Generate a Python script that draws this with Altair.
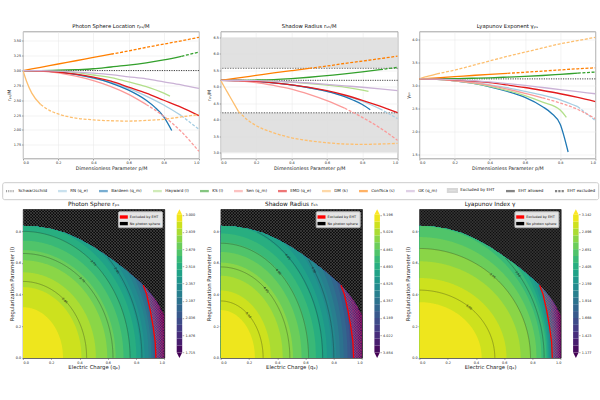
import altair as alt
import numpy as np
import pandas as pd

FONT = "DejaVu Sans"

# ---------------------------------------------------------------- top row
# parameter grids on which each curve was sampled
P_FULL = [0.0, 0.1, 0.2, 0.3, 0.4, 0.5, 0.6, 0.7, 0.8, 0.9, 1.0]
P_BARDEEN = [0.0, 0.1, 0.2, 0.3, 0.4, 0.5, 0.6, 0.7, 0.75, 0.8, 0.845]
P_HAYWARD = [0.0, 0.1, 0.2, 0.3, 0.4, 0.5, 0.6, 0.7, 0.8, 0.835]
P_DM = [0.0, 0.02, 0.05, 0.1, 0.15, 0.2, 0.3, 0.4, 0.5, 0.6, 0.7, 0.8, 0.9, 1.0]

MODELS = ["RN (q_e)", "Bardeen (q_m)", "Hayward (l)", "KS (l)", "Sen (q_m)",
          "EMD (q_e)", "DM (k)", "ConfSca (s)", "GK (q_m)"]
MODEL_COLORS = ["#a6cee3", "#1f78b4", "#b2df8a", "#33a02c", "#fb9a99",
                "#e31a1c", "#fdbf6f", "#ff7f00", "#cab2d6"]
MODEL_GRIDS = [P_FULL, P_BARDEEN, P_HAYWARD, P_FULL, P_FULL, P_FULL, P_DM, P_FULL, P_FULL]
# parameter value after which the shadow leaves the EHT band (None: never)
EHT_CUT = [0.9, None, None, 0.9, 0.7, None, 0.1, 0.5, None]

# photon sphere location r_ps/M
RPS_RN = [3.00, 2.99, 2.97, 2.93, 2.87, 2.80, 2.70, 2.57, 2.42, 2.24, 2.01]
RPS_BARDEEN = [3.00, 2.995, 2.975, 2.935, 2.875, 2.79, 2.67, 2.50, 2.38, 2.22, 1.99]
RPS_HAYWARD = [3.00, 2.998, 2.99, 2.965, 2.925, 2.88, 2.81, 2.73, 2.62, 2.57]
RPS_KS = [3.00, 3.00, 3.005, 3.015, 3.03, 3.06, 3.09, 3.13, 3.18, 3.24, 3.31]
RPS_SEN = [3.00, 2.99, 2.96, 2.905, 2.83, 2.73, 2.60, 2.43, 2.23, 1.97, 1.64]
RPS_EMD = [3.00, 2.995, 2.975, 2.94, 2.89, 2.82, 2.72, 2.62, 2.50, 2.38, 2.24]
RPS_DM = [3.00, 2.82, 2.62, 2.43, 2.33, 2.27, 2.20, 2.17, 2.155, 2.15, 2.16, 2.18, 2.22, 2.26]
RPS_CONFSCA = [3.00, 3.055, 3.11, 3.165, 3.22, 3.275, 3.33, 3.39, 3.445, 3.50, 3.56]
RPS_GK = [3.00, 2.998, 2.99, 2.975, 2.955, 2.93, 2.895, 2.86, 2.81, 2.76, 2.70]

# shadow radius r_sh/M
RSH_RN = [5.196, 5.19, 5.16, 5.11, 5.05, 4.97, 4.86, 4.73, 4.56, 4.33, 4.03]
RSH_BARDEEN = [5.196, 5.19, 5.165, 5.12, 5.06, 4.97, 4.86, 4.70, 4.59, 4.46, 4.30]
RSH_HAYWARD = [5.196, 5.195, 5.19, 5.17, 5.14, 5.10, 5.05, 4.99, 4.90, 4.86]
RSH_KS = [5.196, 5.197, 5.205, 5.22, 5.25, 5.29, 5.34, 5.39, 5.45, 5.52, 5.59]
RSH_SEN = [5.196, 5.18, 5.13, 5.04, 4.93, 4.77, 4.58, 4.35, 4.07, 3.75, 3.37]
RSH_EMD = [5.196, 5.19, 5.165, 5.12, 5.06, 4.98, 4.88, 4.75, 4.59, 4.41, 4.21]
RSH_DM = [5.196, 5.00, 4.72, 4.25, 4.00, 3.82, 3.60, 3.45, 3.36, 3.30, 3.26, 3.25, 3.26, 3.28]
RSH_CONFSCA = [5.196, 5.27, 5.345, 5.42, 5.49, 5.56, 5.63, 5.71, 5.78, 5.855, 5.93]
RSH_GK = [5.196, 5.194, 5.185, 5.17, 5.145, 5.115, 5.075, 5.03, 4.985, 4.935, 4.88]

# Lyapunov exponent gamma_ps
GAM_RN = [3.1416, 3.135, 3.11, 3.07, 3.01, 2.95, 2.87, 2.79, 2.69, 2.54, 2.24]
GAM_BARDEEN = [3.1416, 3.13, 3.10, 3.05, 2.97, 2.87, 2.74, 2.54, 2.40, 2.16, 1.56]
GAM_HAYWARD = [3.1416, 3.13, 3.10, 3.05, 2.98, 2.89, 2.78, 2.64, 2.47, 2.31]
GAM_KS = [3.1416, 3.143, 3.147, 3.155, 3.165, 3.18, 3.195, 3.215, 3.24, 3.265, 3.29]
GAM_SEN = [3.1416, 3.13, 3.10, 3.06, 3.00, 2.92, 2.83, 2.73, 2.62, 2.48, 2.28]
GAM_EMD = [3.1416, 3.137, 3.12, 3.095, 3.06, 3.01, 2.955, 2.89, 2.82, 2.74, 2.65]
GAM_DM = [3.1416, 3.17, 3.20, 3.25, 3.29, 3.33, 3.43, 3.53, 3.63, 3.72, 3.81, 3.90, 3.97, 4.04]
GAM_CONFSCA = [3.1416, 3.165, 3.19, 3.215, 3.24, 3.262, 3.285, 3.31, 3.335, 3.36, 3.38]
GAM_GK = [3.1416, 3.137, 3.125, 3.105, 3.075, 3.04, 3.00, 2.955, 2.91, 2.865, 2.82]

SCHW_RPS = 3.0
SCHW_RSH = 5.196
SCHW_GAM = 3.1416
EHT_BOUNDS = [4.21, 5.56]            # allowed shadow band
EHT_EXCLUDED_LO = [3.0, 5.56]        # shaded bands (lower, upper)
EHT_EXCLUDED_HI = [4.21, 6.5]

LEGEND_LABELS = ["Schwarzschild"] + MODELS + ["Excluded by EHT", "EHT allowed", "EHT excluded"]
LEGEND_COLORS = ["#666666"] + MODEL_COLORS + ["#bdbdbd", "#333333", "#333333"]
DOTS = "M-1,0H-0.75M-0.5,0H-0.25M0,0H0.25M0.5,0H0.75"
BAR = "M-1,0H1"
BLOCK = "M-1,-0.3H1V0.3H-1Z"
DASH = "M-1,0H-0.5M-0.25,0H0.25M0.5,0H1"
LEGEND_SHAPES = [DOTS] + [BAR] * 9 + [BLOCK, BAR, DASH]

# ---------------------------------------------------------------- bottom row
Q_AXIS = [0.0, 0.1, 0.2, 0.3, 0.4, 0.5, 0.6, 0.7, 0.8, 0.9, 1.0]
L_AXIS = [0.0, 0.1, 0.2, 0.3, 0.4, 0.5, 0.6, 0.7, 0.8, 0.835]

# field values along the charge axis (l = 0) and the regularization axis (q_e = 0)
RPS_Q_PROFILE = [3.0, 2.99, 2.965, 2.93, 2.88, 2.82, 2.74, 2.63, 2.49, 2.27, 1.75]
RPS_L_PROFILE = [3.0, 2.995, 2.975, 2.945, 2.90, 2.84, 2.76, 2.66, 2.55, 2.50]
RSH_Q_PROFILE = [5.196, 5.185, 5.15, 5.10, 5.03, 4.94, 4.83, 4.69, 4.50, 4.25, 3.90]
RSH_L_PROFILE = [5.196, 5.19, 5.165, 5.13, 5.08, 5.01, 4.93, 4.83, 4.71, 4.67]
GAM_Q_PROFILE = [3.142, 3.137, 3.12, 3.095, 3.06, 3.02, 2.96, 2.87, 2.73, 2.45, 1.20]
GAM_L_PROFILE = [3.142, 3.135, 3.11, 3.07, 3.02, 2.95, 2.86, 2.74, 2.60, 2.55]

RPS_RANGE = [1.715, 3.000]
RSH_RANGE = [3.854, 5.196]
GAM_RANGE = [1.177, 3.142]

RPS_LINES = [2.85, 2.70, 2.55, 2.40]
RSH_LINES = [5.10, 4.95, 4.80, 4.65, 4.50]
GAM_LINES = [3.00, 2.75, 2.50]

# edge of the region that still has a photon sphere
BOUND_Q = [0.0, 0.1, 0.2, 0.3, 0.4, 0.5, 0.6, 0.7, 0.8, 0.85, 0.9, 0.95, 1.0]
BOUND_L = [0.835, 0.83, 0.815, 0.79, 0.75, 0.70, 0.64, 0.575, 0.50, 0.46, 0.41, 0.35, 0.27]
# EHT exclusion edge
EHT_EDGE_L = [0.0, 0.1, 0.2, 0.3, 0.4, 0.46]
EHT_EDGE_Q = [0.94, 0.935, 0.92, 0.90, 0.875, 0.85]

KEY_LABELS = ["Excluded by EHT", "No photon sphere"]
KEY_COLORS = ["#ff0000", "#000000"]

N_BANDS = 20
L_TOP = 0.94

# ---------------------------------------------------------------- layout
LINE_H = 127
LINE_W = [176, 177, 176]
HEAT_W = 141.4
HEAT_H = 148.7
CB_GAP = 12.3
CB_W = 5.5
CB_TIP = 5.5

X_TICKS = [0.0, 0.2, 0.4, 0.6, 0.8, 1.0]
frame = alt.ViewBackground(stroke="#8a8a8a", strokeWidth=0.8)


def line_panel(title, ytitle, values, ydom, yticks, yfmt, width, schw, extra=None, legend=False):
    rows = []
    for m, col, grid, vals, cut in zip(MODELS, MODEL_COLORS, MODEL_GRIDS, values, EHT_CUT):
        for p, v in zip(grid, vals):
            if cut is None or p <= cut + 1e-9:
                rows.append(dict(model=m, col=col, p=p, v=v, seg="allowed"))
            if cut is not None and p >= cut - 1e-9:
                rows.append(dict(model=m, col=col, p=p, v=v, seg="excluded"))
    df = pd.DataFrame(rows)
    x = alt.X("p:Q", scale=alt.Scale(domain=[0, 1], nice=False),
              axis=alt.Axis(values=X_TICKS, format=".1f", title="Dimensionless Parameter p/M",
                            grid=True, gridColor="#e6e6e6", gridWidth=0.5))
    y = alt.Y("v:Q", scale=alt.Scale(domain=ydom, nice=False, zero=False),
              axis=alt.Axis(values=yticks, format=yfmt, title=ytitle,
                            grid=True, gridColor="#e6e6e6", gridWidth=0.5))
    layers = []
    if extra is not None:
        lo, hi = extra
        bands = pd.DataFrame({"v": lo, "v2": hi})
        layers.append(alt.Chart(bands).mark_rect(color="#dcdcdc", opacity=0.85).encode(
            x=alt.value(0), x2=alt.value("width"), y=y, y2="v2:Q"))
        layers.append(alt.Chart(pd.DataFrame({"v": EHT_BOUNDS})).mark_rule(
            color="#8c8c8c", strokeWidth=1.3, strokeDash=[1.3, 1.3]).encode(y=y))
    layers.append(alt.Chart(pd.DataFrame({"v": [schw]})).mark_rule(
        color="#444444", strokeWidth=1.0, strokeDash=[1.2, 1.2]).encode(y=y))
    base = alt.Chart(df).encode(x=x, y=y, stroke=alt.Stroke("col:N", scale=None), detail="model:N")
    layers.append(base.transform_filter(alt.datum.seg == "allowed").mark_line(
        strokeWidth=1.3, interpolate="monotone", clip=True))
    layers.append(base.transform_filter(alt.datum.seg == "excluded").mark_line(
        strokeWidth=1.3, interpolate="monotone", strokeDash=[3, 1.6], clip=True))
    if legend:
        leg = alt.Legend(orient="none", legendX=-20.8, legendY=150.7, direction="horizontal",
                         columns=len(LEGEND_LABELS), title=None, labelFontSize=4.1,
                         labelFont=FONT, labelColor="#222222", symbolSize=78,
                         symbolStrokeWidth=2.3, symbolOpacity=0.6, labelOffset=1.8,
                         columnPadding=5.0, padding=2.2, strokeColor="#cccccc",
                         fillColor="white", cornerRadius=2)
        lg = pd.DataFrame({"lab": LEGEND_LABELS, "p": 0.0, "v": ydom[0]})
        layers.append(alt.Chart(lg).transform_filter("false").mark_point(filled=False).encode(
            x=x, y=y,
            color=alt.Color("lab:N", scale=alt.Scale(domain=LEGEND_LABELS, range=LEGEND_COLORS), legend=leg),
            shape=alt.Shape("lab:N", scale=alt.Scale(domain=LEGEND_LABELS, range=LEGEND_SHAPES), legend=leg)))
    return alt.layer(*layers).properties(
        width=width, height=LINE_H, view=frame,
        title=alt.TitleParams(title, fontSize=5.3, offset=2.5, font=FONT, fontWeight="normal"))


def bound_l(q):
    return np.interp(q, BOUND_Q, BOUND_L)


def crossing(pos, prof, level):
    pos = np.asarray(pos, float)
    prof = np.asarray(prof, float)
    if level >= prof[0]:
        return 0.0
    if level <= prof[-1]:
        slope = (pos[-1] - pos[-2]) / (prof[-2] - prof[-1])
        return float(pos[-1] + (prof[-1] - level) * slope)
    return float(np.interp(level, prof[::-1], pos[::-1]))


def inside_eht(q, l):
    red_q = np.interp(l, EHT_EDGE_L, EHT_EDGE_Q)
    return (l >= 0) & (l <= EHT_EDGE_L[-1]) & (q <= 1.0) & (q >= red_q) & (l <= bound_l(q))


def hatch_lines(step_px, region=None):
    dq = HEAT_H / HEAT_W
    s = step_px / HEAT_W
    rows = []
    for c in np.arange(-dq, 1.0 + s, s):
        for fam in (0, 1):
            q0, q1 = c, c + dq
            l0, l1 = (0.0, L_TOP) if fam == 0 else (L_TOP, 0.0)
            if region is None:
                rows.append(dict(q=q0, l=l0, q2=q1, l2=l1))
                continue
            t = np.linspace(0, 1, 600)
            qq = q0 + (q1 - q0) * t
            ll = l0 + (l1 - l0) * t
            ok = region(qq, ll)
            if ok.sum() >= 2:
                idx = np.where(ok)[0]
                rows.append(dict(q=qq[idx[0]], l=ll[idx[0]], q2=qq[idx[-1]], l2=ll[idx[-1]]))
    return pd.DataFrame(rows)


def heatmap(title, q_prof, l_prof, vrange, line_levels):
    vmin, vmax = vrange
    step = (vmax - vmin) / N_BANDS
    sx = HEAT_W
    sy = HEAT_H / L_TOP
    x = alt.X("q:Q", scale=alt.Scale(domain=[0, 1], nice=False),
              axis=alt.Axis(values=X_TICKS, format=".1f", title="Electric Charge (qₑ)",
                            grid=False, titleFontSize=5.3))
    y = alt.Y("l:Q", scale=alt.Scale(domain=[0, L_TOP], nice=False, zero=False),
              axis=alt.Axis(values=[0.0, 0.2, 0.4, 0.6, 0.8], format=".1f",
                            title="Regularization Parameter (l)", grid=False, titleFontSize=5.3))
    fill_scale = alt.Scale(scheme="viridis", domain=[vmin, vmax])

    # filled bands, outermost first so the inner ones paint on top
    qs = np.linspace(0, 1, 201)
    rows = [dict(band=0, q=q, l=b, mid=vmin) for q, b in zip(qs, bound_l(qs))]
    for k in range(N_BANDS):
        lev = vmin + k * step
        Q = crossing(Q_AXIS, q_prof, lev)
        L = crossing(L_AXIS, l_prof, lev)
        if Q <= 0:
            continue
        qq = np.union1d(qs, [min(Q, 1.0)])
        ell = np.where(qq < Q, L * np.sqrt(np.clip(1 - (qq / Q) ** 2, 0, None)), 0.0)
        top = np.minimum(ell, bound_l(qq))
        rows += [dict(band=k + 1, q=q, l=t, mid=lev + step / 2) for q, t in zip(qq, top)]
    bands = pd.DataFrame(rows)

    # contour lines with inline labels
    line_rows, lab_rows = [], []
    ts = np.linspace(0, np.pi / 2, 160)
    for lev in line_levels:
        Q = crossing(Q_AXIS, q_prof, lev)
        L = crossing(L_AXIS, l_prof, lev)
        qq, ll = Q * np.cos(ts), L * np.sin(ts)
        ok = (ll <= bound_l(qq) - 0.004) & (qq <= 1.0)
        for i in np.where(ok)[0]:
            line_rows.append(dict(lev=f"{lev:.2f}", i=int(i), q=qq[i], l=ll[i]))
        for t in np.linspace(0.85, 0.1, 40):
            lq, lL = Q * np.cos(t), L * np.sin(t)
            if lq <= 0.97 and lL <= bound_l(lq) - 0.04:
                dx = -Q * np.sin(t) * sx
                dy = -L * np.cos(t) * sy
                ang = (np.degrees(np.arctan2(dy, dx)) + 180.0) % 360.0
                lab_rows.append(dict(q=lq, l=lL, ang=ang, txt=f"{lev:.2f}"))
                break
    clines = pd.DataFrame(line_rows)
    clabels = pd.DataFrame(lab_rows)

    red = pd.DataFrame({"q": EHT_EDGE_Q, "l": EHT_EDGE_L, "i": range(len(EHT_EDGE_L))})
    dark_hatch = hatch_lines(3.0)
    pink_hatch = hatch_lines(2.6, inside_eht)
    keys = pd.DataFrame({"key": KEY_LABELS, "q": 0.0, "l": 0.0})

    field = alt.layer(
        alt.Chart(dark_hatch).mark_rule(color="#5e5e5e", strokeWidth=0.55, clip=True).encode(
            x=x, y=y, x2="q2:Q", y2="l2:Q"),
        alt.Chart(bands).mark_area(clip=True).encode(
            x=x, y=y, y2=alt.datum(0), fill=alt.Fill("mid:Q", scale=fill_scale, legend=None),
            detail="band:O"),
        alt.Chart(pink_hatch).mark_rule(color="#ff3a6e", strokeWidth=0.5, opacity=0.75, clip=True).encode(
            x=x, y=y, x2="q2:Q", y2="l2:Q"),
        alt.Chart(clines).mark_line(color="#1e1e1e", strokeWidth=0.5, opacity=0.6, clip=True).encode(
            x=x, y=y, detail="lev:N", order="i:Q"),
        alt.Chart(clabels).mark_text(fontSize=3.0, font=FONT, color="#1a1a1a").encode(
            x=x, y=y, text="txt:N", angle=alt.Angle("ang:Q", scale=None)),
        alt.Chart(red).mark_line(color="#ff0000", strokeWidth=1.3, clip=True).encode(
            x=x, y=y, order="i:Q"),
        alt.Chart(keys).transform_filter("false").mark_point(
            filled=True, shape="M-1,-0.42H1V0.42H-1Z", opacity=1).encode(
            x=x, y=y,
            color=alt.Color("key:N", scale=alt.Scale(domain=KEY_LABELS, range=KEY_COLORS),
                            legend=alt.Legend(orient="top-right", offset=2, title=None,
                                              labelFontSize=3.4, labelFont=FONT, labelColor="#111111",
                                              symbolSize=64, symbolStrokeWidth=0, labelOffset=2,
                                              rowPadding=0.6, padding=1.8, fillColor="#e4e4e4",
                                              strokeColor="#b0b0b0", cornerRadius=1,
                                              symbolType="M-1,-0.42H1V0.42H-1Z"))),
    )

    # colour bar to the right of the field, on its own value scale
    ext = (vmax - vmin) * CB_TIP / (HEAT_H - 2 * CB_TIP)
    cb_scale = alt.Scale(domain=[vmin - ext, vmax + ext], nice=False, zero=False)
    cb_axis = alt.Axis(values=[float(v) for v in np.linspace(vmin, vmax, 9)], format=".3f",
                       orient="right", offset=CB_GAP + CB_W, title=None, grid=False,
                       tickSize=1.5, labelPadding=1.2)
    cb_bands = pd.DataFrame({"lo": [vmin + i * step for i in range(N_BANDS)],
                             "hi": [vmin + (i + 1) * step for i in range(N_BANDS)],
                             "mid": [vmin + (i + 0.5) * step for i in range(N_BANDS)]})
    tips = pd.DataFrame({"lo": [vmax + ext / 2, vmin - ext / 2], "mid": [vmax, vmin],
                         "end": ["over", "under"]})
    cb = alt.layer(
        alt.Chart(cb_bands).mark_rect().encode(
            x=alt.value(HEAT_W + CB_GAP), x2=alt.value(HEAT_W + CB_GAP + CB_W),
            y=alt.Y("lo:Q", scale=cb_scale, axis=cb_axis), y2="hi:Q",
            fill=alt.Fill("mid:Q", scale=fill_scale, legend=None)),
        alt.Chart(tips).mark_point(filled=True, opacity=1, strokeWidth=0).encode(
            x=alt.value(HEAT_W + CB_GAP + CB_W / 2),
            y=alt.Y("lo:Q", scale=cb_scale, axis=cb_axis),
            fill=alt.Fill("mid:Q", scale=fill_scale, legend=None),
            shape=alt.Shape("end:N", scale=alt.Scale(domain=["over", "under"],
                                                     range=["M-1,1L0,-1L1,1Z", "M-1,-1L0,1L1,-1Z"]),
                            legend=None),
            size=alt.value(CB_W * CB_W)),
    )
    return alt.layer(field, cb).resolve_scale(y="independent").properties(
        width=HEAT_W, height=HEAT_H,
        view=alt.ViewBackground(fill="#0b0b0b", stroke="#222222", strokeWidth=0.8),
        title=alt.TitleParams(title, fontSize=5.8, offset=2.2, font=FONT, fontWeight="normal",
                              anchor="middle"))


IND = dict(color="independent", fill="independent", shape="independent", stroke="independent")

p1 = line_panel("Photon Sphere Location rₚₛ/M", "rₚₛ/M",
                [RPS_RN, RPS_BARDEEN, RPS_HAYWARD, RPS_KS, RPS_SEN, RPS_EMD, RPS_DM, RPS_CONFSCA, RPS_GK],
                [1.52, 3.657], [1.75, 2.0, 2.25, 2.5, 2.75, 3.0, 3.25, 3.5], ".2f", LINE_W[0],
                SCHW_RPS, legend=True)
p2 = line_panel("Shadow Radius rₛₕ/M", "rₛₕ/M",
                [RSH_RN, RSH_BARDEEN, RSH_HAYWARD, RSH_KS, RSH_SEN, RSH_EMD, RSH_DM, RSH_CONFSCA, RSH_GK],
                [2.82, 6.68], [3.0, 3.5, 4.0, 4.5, 5.0, 5.5, 6.0, 6.5], ".1f", LINE_W[1],
                SCHW_RSH, extra=(EHT_EXCLUDED_LO, EHT_EXCLUDED_HI))
p3 = line_panel("Lyapunov Exponent γₚₛ", "γₚₛ",
                [GAM_RN, GAM_BARDEEN, GAM_HAYWARD, GAM_KS, GAM_SEN, GAM_EMD, GAM_DM, GAM_CONFSCA, GAM_GK],
                [1.42, 4.166], [1.5, 2.0, 2.5, 3.0, 3.5, 4.0], ".1f", LINE_W[2], SCHW_GAM)

h1 = heatmap("Photon Sphere rₚₛ", RPS_Q_PROFILE, RPS_L_PROFILE, RPS_RANGE, RPS_LINES)
h2 = heatmap("Shadow Radius rₛₕ", RSH_Q_PROFILE, RSH_L_PROFILE, RSH_RANGE, RSH_LINES)
h3 = heatmap("Lyapunov Index γ", GAM_Q_PROFILE, GAM_L_PROFILE, GAM_RANGE, GAM_LINES)

chart = alt.concat(p1, p2, p3, h1, h2, h3, columns=3, bounds="flush",
                   spacing={"row": 50.7, "column": 21.7}).resolve_scale(**IND).properties(
    padding={"left": 1, "top": 22.5, "right": 0, "bottom": 0}, background="white"
).configure(font=FONT).configure_axis(
    labelFont=FONT, titleFont=FONT, labelFontSize=3.4, titleFontSize=4.8, labelColor="#222222",
    titleColor="#222222", titleFontWeight="normal", tickColor="#555555", tickSize=1.5, tickWidth=0.5,
    labelPadding=0.8, titlePadding=1.2, domain=False
).configure_title(font=FONT, fontWeight="normal", color="#111111")

chart.save("out.html", embed_options={"renderer": "svg", "actions": False})
